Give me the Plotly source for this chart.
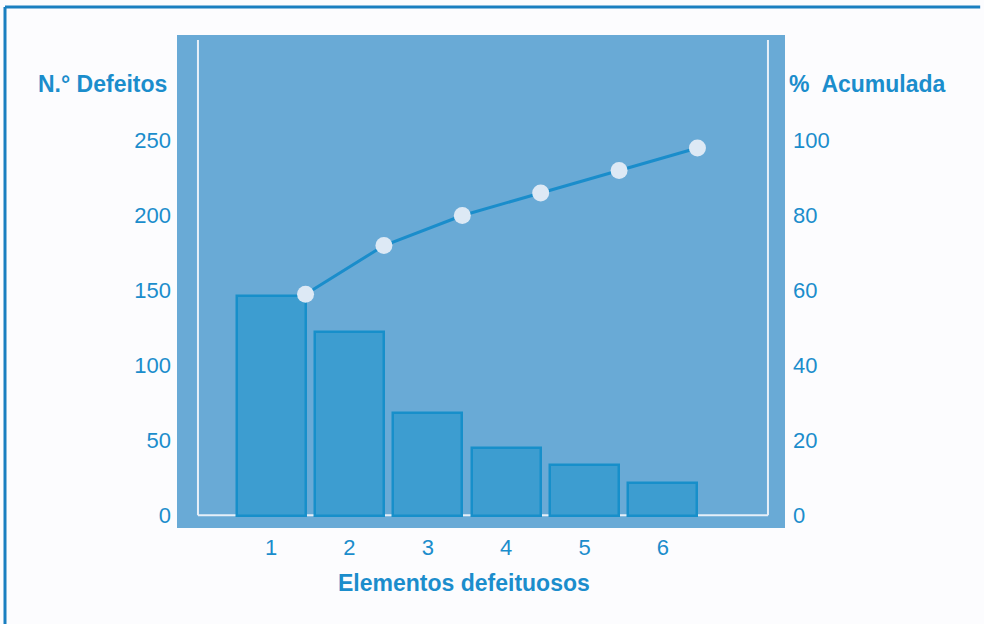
import plotly.graph_objects as go

# Pareto data: defects per element and cumulative percentage
elementos = [1, 2, 3, 4, 5, 6]
n_defeitos = [146, 122, 68, 45, 34, 22]
pct_acumulada = [59, 72, 80, 86, 92, 98]

left_ticks = [0, 50, 100, 150, 200, 250]
right_ticks = [0, 20, 40, 60, 80, 100]

FONT = "Liberation Sans, Arial, Helvetica, sans-serif"
TEXT_BLUE = "#1b8dcc"
PANEL = "#69aad6"
BAR_FILL = "#3d9dd0"
BAR_EDGE = "#178fca"
LINE_BLUE = "#1a8dcb"
MARKER = "#dde9f5"
BAR_WIDTH = 0.88

fig = go.Figure()

fig.add_trace(go.Bar(
    x=elementos,
    y=n_defeitos,
    width=BAR_WIDTH,
    marker=dict(color=BAR_FILL, line=dict(color=BAR_EDGE, width=2.5)),
    yaxis="y",
    hoverinfo="skip",
))

# cumulative points sit on the right edge of each bar
fig.add_trace(go.Scatter(
    x=[e + BAR_WIDTH / 2 for e in elementos],
    y=pct_acumulada,
    mode="lines+markers",
    line=dict(color=LINE_BLUE, width=3),
    marker=dict(color=MARKER, size=17, line=dict(width=0)),
    yaxis="y2",
    hoverinfo="skip",
))

# white frame lines inside the panel
frame = dict(type="line", xref="paper", yref="paper", layer="below",
             line=dict(color="#e6eff8", width=2))
fig.add_shape(**frame, x0=0.0345, x1=0.0345, y0=0.026, y1=0.99)
fig.add_shape(**frame, x0=0.0345, x1=0.972, y0=0.026, y1=0.026)
fig.add_shape(**frame, x0=0.972, x1=0.972, y0=0.026, y1=0.99)

# outer border of the figure (left and top edges)
border = dict(type="line", xref="paper", yref="paper",
              line=dict(color="#1a7fc0", width=3))
fig.add_shape(**border, x0=-0.2829, x1=-0.2829, y0=1.0568, y1=-0.195)
fig.add_shape(**border, x0=-0.2829, x1=1.321, y0=1.0568, y1=1.0568)

tick_font = dict(family=FONT, size=22, color=TEXT_BLUE)
title_font = dict(family=FONT, size=23, color=TEXT_BLUE)

fig.add_annotation(text="<b>N.° Defeitos</b>", xref="paper", yref="paper",
                   x=-0.013, y=0.9, xanchor="right", yanchor="middle",
                   showarrow=False, font=title_font)
fig.add_annotation(text="<b>%  Acumulada</b>", xref="paper", yref="paper",
                   x=1.003, y=0.9, xanchor="left", yanchor="middle",
                   showarrow=False, font=title_font)
fig.add_annotation(text="<b>Elementos defeituosos</b>", xref="paper", yref="paper",
                   x=0.472, y=-0.112, xanchor="center", yanchor="middle",
                   showarrow=False, font=title_font)

fig.update_layout(
    width=984, height=624,
    margin=dict(l=177, r=199, t=35, b=96, pad=0),
    paper_bgcolor="#fcfcfe",
    plot_bgcolor=PANEL,
    showlegend=False,
    bargap=0,
    xaxis=dict(
        range=[-0.2, 7.557],
        tickmode="array", tickvals=elementos, ticktext=[str(e) for e in elementos],
        showgrid=False, zeroline=False, showline=False, ticks="",
        tickfont=tick_font, ticklabelstandoff=4, fixedrange=True,
    ),
    yaxis=dict(
        range=[-8.33, 320.3],
        tickmode="array", tickvals=left_ticks,
        showgrid=False, zeroline=False, showline=False, ticks="",
        tickfont=tick_font, ticklabelstandoff=5, fixedrange=True,
    ),
    yaxis2=dict(
        range=[-3.33, 128.13], overlaying="y", side="right",
        tickmode="array", tickvals=right_ticks,
        showgrid=False, zeroline=False, showline=False, ticks="",
        tickfont=tick_font, ticklabelstandoff=7, fixedrange=True,
    ),
)

fig.write_html("out.html")
